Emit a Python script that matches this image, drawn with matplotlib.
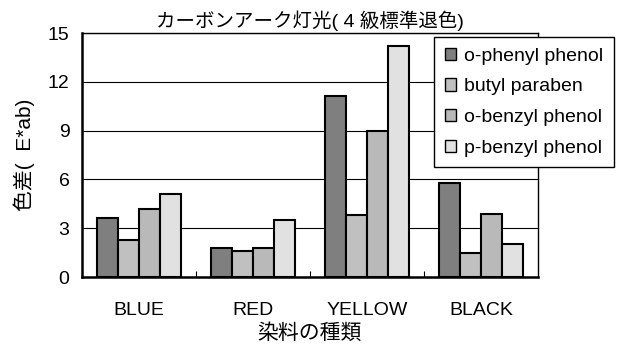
import numpy as np
import matplotlib
matplotlib.use("Agg")
import matplotlib.pyplot as plt

plt.rcParams['font.family'] = ['Liberation Sans', 'Noto Sans CJK JP', 'DejaVu Sans']

dyes = ["BLUE", "RED", "YELLOW", "BLACK"]
series = ["o-phenyl phenol", "butyl paraben", "o-benzyl phenol", "p-benzyl phenol"]
o_phenyl = [3.6, 1.8, 11.1, 5.8]
butyl_paraben = [2.3, 1.6, 3.8, 1.5]
o_benzyl = [4.2, 1.8, 9.0, 3.9]
p_benzyl = [5.1, 3.5, 14.2, 2.0]
colors = ["#7f7f7f", "#c0c0c0", "#b9b9b9", "#e1e1e1"]
yticks = [0, 3, 6, 9, 12, 15]

fig = plt.figure(figsize=(6.26, 3.44), dpi=100)
ax = fig.add_axes([82 / 626, 1 - 277 / 344, 456 / 626, 244 / 344])

x = np.arange(len(dyes))
width = 0.185
for i, (vals, name, c) in enumerate(zip([o_phenyl, butyl_paraben, o_benzyl, p_benzyl], series, colors)):
    ax.bar(x + (i - 1.5) * width, vals, width, color=c, edgecolor="black",
           linewidth=1.5, label=name, zorder=3)

ax.set_xlim(-0.5, len(dyes) - 0.5)
ax.set_ylim(0, 15)
ax.set_yticks(yticks)
ax.yaxis.grid(True, color="black", linewidth=0.8, zorder=0)
ax.tick_params(axis="y", length=0, labelsize=14, pad=9)

# category labels sit well below the axis, boundary ticks point inward
ax.set_xticks(x)
ax.set_xticklabels(dyes, fontsize=14)
ax.tick_params(axis="x", length=0, pad=18)
ax.set_xticks(np.arange(0.5, len(dyes) - 0.5, 1), minor=True)
ax.tick_params(axis="x", which="minor", direction="in", length=4, width=0.8)

for side in ["top", "right"]:
    ax.spines[side].set_linewidth(1.0)
for side in ["left", "bottom"]:
    ax.spines[side].set_linewidth(1.8)

ax.set_title("カーボンアーク灯光( 4 級標準退色)", fontsize=14, pad=4)
ax.set_xlabel("染料の種類", fontsize=15, labelpad=3)
ax.set_ylabel("色差(  E*ab)", fontsize=15, labelpad=9)

leg = ax.legend(loc="upper left", bbox_to_anchor=(434 / 626, 1 - 37 / 344),
                bbox_transform=fig.transFigure, fontsize=14, frameon=True,
                fancybox=False, framealpha=1, edgecolor="black",
                handlelength=0.6, handleheight=0.6, handletextpad=0.4,
                labelspacing=0.7, borderpad=0.55, borderaxespad=0)
leg.get_frame().set_linewidth(1.0)
for h in leg.legend_handles:
    h.set_linewidth(1.0)

fig.savefig("out.png", dpi=100)
